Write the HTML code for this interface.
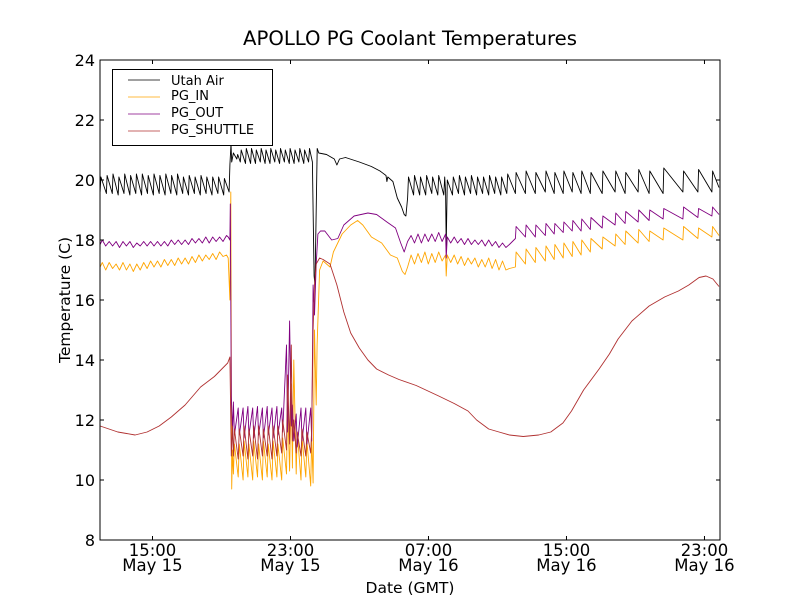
<!DOCTYPE html>
<html><head><meta charset="utf-8"><style>
body{margin:0;background:#fff;}
svg{display:block;font-family:"DejaVu Sans","Liberation Sans",sans-serif;}
</style></head><body>
<svg id="chart" width="800" height="600">
<rect width="800" height="600" fill="#fff"/>
<text x="410" y="45" font-size="19.7" text-anchor="middle">APOLLO PG Coolant Temperatures</text>
<g id="series"></g>
<g id="axes"></g>
<text x="410" y="593" font-size="15.5" text-anchor="middle">Date (GMT)</text>
<text x="70" y="300" font-size="15.5" text-anchor="middle" transform="rotate(-90 70 300)">Temperature (C)</text>
<g id="legend">
<rect x="112.5" y="69.5" width="160" height="76" fill="#fff" stroke="#000" stroke-width="1"/>
<line x1="128" y1="80" x2="160" y2="80" stroke="#000" stroke-width="0.8"/>
<text x="171" y="85" font-size="13">Utah Air</text>
<line x1="128" y1="97" x2="160" y2="97" stroke="#ffa500" stroke-width="0.8"/>
<text x="171" y="100" font-size="13">PG_IN</text>
<line x1="128" y1="114" x2="160" y2="114" stroke="#800080" stroke-width="0.8"/>
<text x="171" y="117" font-size="13">PG_OUT</text>
<line x1="128" y1="131" x2="160" y2="131" stroke="#b03030" stroke-width="0.8"/>
<text x="171" y="134" font-size="13">PG_SHUTTLE</text>
</g>
</svg>
<script>
// time in hours since May 15 00:00 GMT; each entry [hour, temperature C]
const xTicks=[15,23,31,39,47];
const xTickLabels=[["15:00","May 15"],["23:00","May 15"],["07:00","May 16"],["15:00","May 16"],["23:00","May 16"]];
const yTicks=[8,10,12,14,16,18,20,22,24];
// the sampled timestamps below were logged 0.49 h behind the axis clock
const dataClockOffsetHours=0.49;

const airData=[[11.47,19.6],[11.52,20.1],[11.84,19.55],[11.88,20.15],[12.18,19.55],[12.22,20.2],[12.52,19.5],[12.56,20.1],[12.86,19.55],[12.9,20.2],[13.2,19.5],[13.24,20.15],[13.54,19.55],[13.58,20.2],[13.88,19.5],[13.92,20.2],[14.22,19.55],[14.26,20.15],[14.56,19.5],[14.6,20.2],[14.9,19.55],[14.94,20.15],[15.24,19.5],[15.28,20.2],[15.58,19.55],[15.62,20.15],[15.92,19.5],[15.96,20.2],[16.26,19.55],[16.3,20.1],[16.6,19.5],[16.64,20.15],[16.94,19.55],[16.98,20.1],[17.28,19.5],[17.32,20.15],[17.62,19.55],[17.66,20.1],[17.96,19.5],[18.0,20.1],[18.3,19.55],[18.34,20.1],[18.64,19.5],[18.68,20.05],[18.95,19.6],[19.0,20.5],[19.06,21.2],[19.1,20.6],[19.2,20.9],[19.4,20.7],[19.45,20.85],[19.6,20.6],[19.65,21.0],[19.9,20.55],[19.95,21.05],[20.2,20.55],[20.25,21.05],[20.48,20.55],[20.53,21.0],[20.76,20.6],[20.81,21.05],[21.04,20.55],[21.09,21.0],[21.32,20.55],[21.37,21.05],[21.6,20.6],[21.65,21.0],[21.88,20.55],[21.93,21.05],[22.16,20.6],[22.21,21.0],[22.44,20.55],[22.49,21.05],[22.72,20.55],[22.77,21.0],[23.0,20.6],[23.05,21.05],[23.28,20.55],[23.33,21.0],[23.56,20.6],[23.61,21.05],[23.78,20.6],[23.82,19.0],[23.88,16.8],[23.93,16.5],[24.0,19.0],[24.06,21.05],[24.15,20.9],[24.6,20.85],[25.05,20.7],[25.2,20.5],[25.35,20.7],[25.7,20.75],[26.5,20.6],[27.2,20.45],[27.7,20.3],[28.05,20.15],[28.1,19.95],[28.15,20.1],[28.45,19.95],[28.7,19.4],[28.95,19.1],[29.1,18.85],[29.2,18.8],[29.3,19.4],[29.35,20.1],[29.65,19.5],[29.7,20.15],[30.0,19.5],[30.05,20.1],[30.35,19.5],[30.4,20.15],[30.7,19.55],[30.75,20.1],[31.05,19.5],[31.1,20.15],[31.4,19.5],[31.45,20.1],[31.5,19.6],[31.54,17.8],[31.6,20.0],[31.9,19.5],[31.95,20.1],[32.25,19.55],[32.3,20.15],[32.6,19.5],[32.65,20.1],[32.95,19.55],[33.0,20.15],[33.3,19.5],[33.35,20.1],[33.65,19.55],[33.7,20.1],[34.0,19.5],[34.05,20.15],[34.35,19.55],[34.4,20.1],[34.7,19.5],[34.75,20.1],[35.05,19.55],[35.1,20.2],[35.55,19.55],[35.59,20.25],[36.13,19.55],[36.17,20.3],[36.7,19.55],[36.74,20.25],[37.28,19.6],[37.32,20.3],[37.8,19.55],[37.84,20.25],[38.32,19.55],[38.36,20.3],[38.84,19.6],[38.88,20.25],[39.36,19.55],[39.4,20.3],[39.89,19.55],[39.93,20.25],[40.58,19.55],[40.62,20.3],[41.33,19.6],[41.37,20.3],[41.91,19.55],[41.95,20.25],[42.66,19.6],[42.7,20.35],[43.3,19.55],[43.34,20.3],[44.11,19.55],[44.15,20.4],[45.26,19.6],[45.3,20.3],[46.13,19.6],[46.17,20.35],[46.94,19.6],[46.98,20.3],[47.35,19.75]];

const inData=[[11.47,17.1],[11.6,17.25],[11.8,17.0],[12.0,17.25],[12.2,17.05],[12.4,17.2],[12.6,17.0],[12.8,17.25],[13.0,17.0],[13.2,17.2],[13.4,16.95],[13.6,17.2],[13.8,17.0],[14.0,17.25],[14.2,17.05],[14.4,17.3],[14.6,17.1],[14.8,17.3],[15.0,17.1],[15.2,17.35],[15.4,17.15],[15.6,17.35],[15.8,17.15],[16.0,17.4],[16.2,17.2],[16.4,17.4],[16.6,17.2],[16.8,17.45],[17.0,17.25],[17.2,17.5],[17.4,17.3],[17.6,17.5],[17.8,17.35],[18.0,17.55],[18.2,17.35],[18.4,17.6],[18.6,17.45],[18.8,17.5],[18.9,17.4],[19.0,16.0],[19.05,19.6],[19.1,9.7],[19.15,11.0],[19.2,10.2],[19.26,11.2],[19.48,10.1],[19.54,11.2],[19.76,10.0],[19.82,11.3],[20.04,10.1],[20.1,11.2],[20.32,10.0],[20.38,11.3],[20.6,10.1],[20.66,11.2],[20.88,10.0],[20.94,11.3],[21.16,10.1],[21.22,11.2],[21.44,10.0],[21.5,11.3],[21.72,10.1],[21.78,11.2],[22.0,10.0],[22.06,11.4],[22.28,10.2],[22.34,12.5],[22.46,10.3],[22.56,13.2],[22.62,10.4],[22.7,14.0],[22.84,10.2],[22.9,11.6],[23.12,10.0],[23.18,11.4],[23.4,10.1],[23.46,11.3],[23.68,9.8],[23.74,11.4],[23.82,9.9],[23.9,15.0],[24.0,12.5],[24.05,14.5],[24.2,17.0],[24.4,17.3],[24.8,17.1],[25.0,17.6],[25.5,18.2],[26.0,18.5],[26.4,18.65],[26.7,18.5],[27.2,18.1],[27.8,17.9],[28.3,17.5],[28.7,17.4],[29.0,16.95],[29.15,16.85],[29.3,17.1],[29.5,17.5],[29.7,17.2],[29.9,17.55],[30.1,17.25],[30.3,17.6],[30.5,17.2],[30.7,17.55],[30.9,17.25],[31.1,17.6],[31.3,17.3],[31.5,17.5],[31.54,16.8],[31.6,17.5],[31.8,17.25],[32.0,17.5],[32.2,17.2],[32.4,17.45],[32.6,17.15],[32.8,17.4],[33.0,17.2],[33.2,17.4],[33.4,17.1],[33.6,17.35],[33.8,17.1],[34.0,17.4],[34.2,17.05],[34.4,17.35],[34.6,17.0],[34.8,17.3],[35.0,17.0],[35.2,17.05],[35.55,17.1],[35.59,17.6],[36.13,17.2],[36.17,17.7],[36.7,17.25],[36.74,17.75],[37.28,17.3],[37.32,17.8],[37.8,17.35],[37.84,17.85],[38.32,17.4],[38.36,17.9],[38.84,17.45],[38.88,17.95],[39.36,17.5],[39.4,18.0],[39.89,17.6],[39.93,18.05],[40.58,17.7],[40.62,18.1],[41.33,17.8],[41.37,18.2],[41.91,17.85],[41.95,18.3],[42.66,17.9],[42.7,18.35],[43.3,17.95],[43.34,18.3],[44.11,18.0],[44.15,18.4],[45.26,18.0],[45.3,18.45],[46.13,18.05],[46.17,18.4],[46.94,18.1],[46.98,18.45],[47.35,18.15]];

const outData=[[11.47,17.85],[11.6,18.0],[11.8,17.8],[12.0,17.95],[12.2,17.8],[12.4,17.95],[12.6,17.75],[12.8,17.95],[13.0,17.8],[13.2,17.95],[13.4,17.75],[13.6,17.9],[13.8,17.8],[14.0,17.95],[14.2,17.8],[14.4,17.95],[14.6,17.8],[14.8,17.95],[15.0,17.8],[15.2,17.95],[15.4,17.8],[15.6,18.0],[15.8,17.85],[16.0,18.0],[16.2,17.85],[16.4,18.0],[16.6,17.85],[16.8,18.05],[17.0,17.9],[17.2,18.05],[17.4,17.9],[17.6,18.1],[17.8,17.9],[18.0,18.1],[18.2,17.95],[18.4,18.1],[18.6,17.95],[18.8,18.15],[18.9,18.1],[19.0,18.0],[19.02,19.2],[19.08,12.8],[19.15,11.6],[19.2,12.6],[19.26,11.5],[19.48,12.4],[19.54,11.5],[19.76,12.4],[19.82,11.4],[20.04,12.45],[20.1,11.5],[20.32,12.4],[20.38,11.4],[20.6,12.45],[20.66,11.5],[20.88,12.4],[20.94,11.4],[21.16,12.45],[21.22,11.5],[21.44,12.4],[21.5,11.4],[21.72,12.45],[21.78,11.5],[22.0,12.4],[22.06,11.6],[22.28,14.5],[22.34,11.6],[22.46,15.3],[22.56,11.8],[22.62,12.5],[22.7,11.3],[22.84,12.2],[22.9,11.1],[23.12,12.4],[23.18,11.3],[23.4,12.4],[23.46,11.2],[23.68,12.4],[23.74,11.3],[23.82,16.5],[23.9,15.5],[24.0,17.2],[24.1,18.2],[24.25,18.3],[24.5,18.3],[24.9,18.0],[25.25,18.05],[25.6,18.5],[26.2,18.8],[27.0,18.9],[27.5,18.85],[28.1,18.6],[28.6,18.4],[28.9,17.9],[29.1,17.6],[29.3,17.95],[29.5,18.15],[29.7,17.9],[29.9,18.2],[30.1,17.9],[30.3,18.2],[30.5,17.95],[30.7,18.2],[30.9,17.95],[31.1,18.25],[31.3,17.95],[31.5,18.2],[31.54,17.4],[31.6,18.1],[31.8,17.9],[32.0,18.1],[32.2,17.9],[32.4,18.05],[32.6,17.85],[32.8,18.05],[33.0,17.85],[33.2,18.0],[33.4,17.85],[33.6,18.0],[33.8,17.8],[34.0,18.0],[34.2,17.8],[34.4,17.95],[34.6,17.75],[34.8,17.9],[35.0,17.75],[35.2,17.85],[35.55,18.05],[35.59,18.45],[36.13,18.1],[36.17,18.5],[36.7,18.1],[36.74,18.5],[37.28,18.15],[37.32,18.55],[37.8,18.2],[37.84,18.55],[38.32,18.25],[38.36,18.6],[38.84,18.3],[38.88,18.65],[39.36,18.3],[39.4,18.7],[39.89,18.35],[39.93,18.75],[40.58,18.4],[40.62,18.8],[41.33,18.5],[41.37,18.9],[41.91,18.55],[41.95,18.95],[42.66,18.6],[42.7,19.0],[43.3,18.65],[43.34,19.0],[44.11,18.7],[44.15,19.05],[45.26,18.7],[45.3,19.1],[46.13,18.75],[46.17,19.05],[46.94,18.8],[46.98,19.1],[47.35,18.85]];

const shuttleData=[[11.47,11.8],[12.5,11.6],[13.5,11.5],[14.2,11.6],[14.9,11.8],[15.6,12.1],[16.4,12.5],[17.3,13.1],[18.1,13.45],[18.87,13.9],[19.0,14.1],[19.08,10.8],[19.15,11.8],[19.2,10.8],[19.26,11.7],[19.48,10.7],[19.54,11.7],[19.76,10.8],[19.82,11.8],[20.04,10.7],[20.1,11.7],[20.32,10.8],[20.38,11.8],[20.6,10.7],[20.66,11.8],[20.88,10.8],[20.94,11.7],[21.16,10.8],[21.22,11.8],[21.44,10.7],[21.5,11.8],[21.72,10.8],[21.78,11.8],[22.0,10.9],[22.06,12.0],[22.28,11.0],[22.34,13.5],[22.46,11.2],[22.56,14.5],[22.62,11.3],[22.7,12.0],[22.84,10.9],[22.9,11.6],[23.12,10.8],[23.18,11.7],[23.4,10.8],[23.46,11.6],[23.68,10.9],[23.74,11.7],[23.82,15.0],[23.9,16.5],[24.0,17.2],[24.2,17.4],[24.4,17.35],[24.8,17.2],[25.2,16.5],[25.6,15.6],[26.0,14.9],[26.5,14.4],[27.0,14.0],[27.5,13.7],[28.2,13.5],[28.8,13.35],[29.8,13.15],[31.1,12.8],[32.0,12.55],[32.8,12.3],[33.3,12.0],[34.0,11.7],[34.6,11.6],[35.2,11.5],[36.0,11.45],[36.9,11.5],[37.6,11.6],[38.3,11.9],[38.8,12.3],[39.5,13.0],[40.4,13.7],[41.0,14.2],[41.5,14.7],[42.3,15.3],[43.3,15.8],[44.2,16.1],[45.0,16.3],[45.6,16.5],[46.2,16.75],[46.6,16.8],[47.0,16.7],[47.35,16.45]];

const X0=100,X1=720,Y0=540,Y1=60,VMIN=8,VMAX=24;
const HMIN=11.957,HMAX=47.9;
function xs(h){return X0+(h-HMIN)/(HMAX-HMIN)*(X1-X0);}
function ys(v){return Y0-(v-VMIN)/(VMAX-VMIN)*(Y0-Y1);}
const NS="http://www.w3.org/2000/svg";
const sg=document.getElementById('series');
function drawLine(data,color,name){
  const p=document.createElementNS(NS,'polyline');
  p.setAttribute('points',data.map(d=>xs(d[0]+dataClockOffsetHours).toFixed(1)+','+ys(d[1]).toFixed(1)).join(' '));
  p.setAttribute('fill','none');p.setAttribute('stroke',color);p.setAttribute('stroke-width','0.9');
  p.setAttribute('stroke-linejoin','round');
  
  
  sg.appendChild(p);
}
drawLine(airData,'#000','line-utah-air');
drawLine(inData,'#ffa500','line-pg-in');
drawLine(outData,'#800080','line-pg-out');
drawLine(shuttleData,'#b03030','line-pg-shuttle');

const ag=document.getElementById('axes');
function el(tag,attrs){const e=document.createElementNS(NS,tag);for(const k in attrs)e.setAttribute(k,attrs[k]);ag.appendChild(e);return e;}
const frame=el('rect',{x:X0,y:Y1,width:X1-X0,height:Y0-Y1,fill:'none',stroke:'#000','stroke-width':1});


yTicks.forEach(v=>{
  const y=ys(v);
  el('line',{x1:X0,y1:y,x2:X0+4,y2:y,stroke:'#000'});
  el('line',{x1:X1-4,y1:y,x2:X1,y2:y,stroke:'#000'});
  const t=el('text',{x:X0-5,y:y+6,'font-size':16,'text-anchor':'end'});
  t.textContent=v;
  
  
});
xTicks.forEach((h,i)=>{
  const x=xs(h);
  el('line',{x1:x,y1:Y0,x2:x,y2:Y0-4,stroke:'#000'});
  el('line',{x1:x,y1:Y1,x2:x,y2:Y1+4,stroke:'#000'});
  const t1=el('text',{x:x,y:556,'font-size':16.5,'text-anchor':'middle'});
  t1.textContent=xTickLabels[i][0];
  
  
  const t2=el('text',{x:x,y:571,'font-size':16.5,'text-anchor':'middle'});
  t2.textContent=xTickLabels[i][1];
  
  
});
</script>
</body></html>
